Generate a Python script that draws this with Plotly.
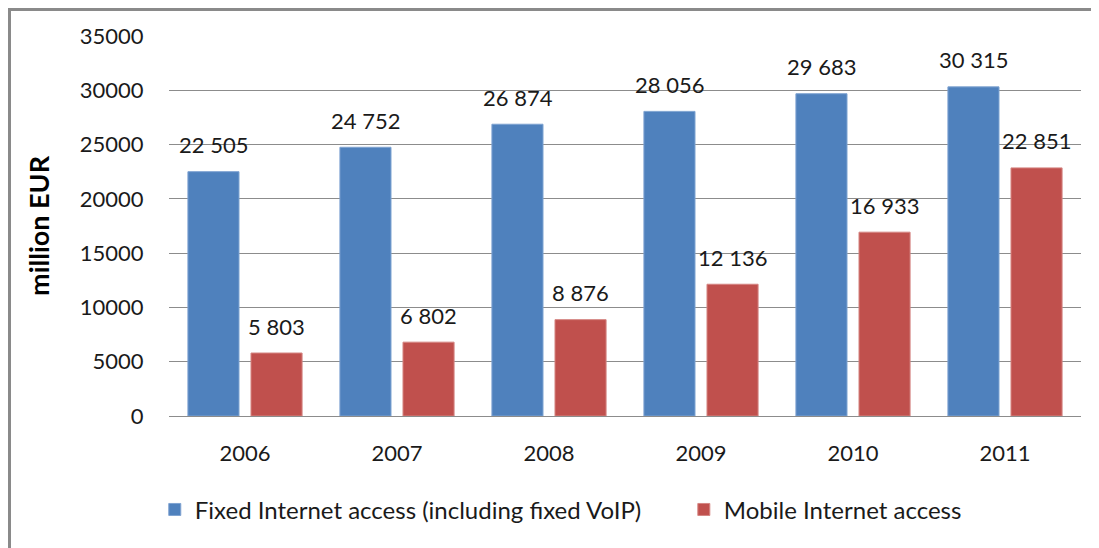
import plotly.graph_objects as go

# --- DATA ---
YEARS = ["2006", "2007", "2008", "2009", "2010", "2011"]
FIXED = [22505, 24752, 26874, 28056, 29683, 30315]
MOBILE = [5803, 6802, 8876, 12136, 16933, 22851]
SERIES_NAMES = ["Fixed Internet access (including fixed VoIP)", "Mobile Internet access"]
Y_TICKS = [0, 5000, 10000, 15000, 20000, 25000, 30000, 35000]

# --- STYLE ---
BLUE = "#4F81BD"
RED = "#C0504D"
GRID = "#8c8c8c"
FONT = "Lato"
TXT = "#1a1a1a"


def fmt(v):
    return f"{v:,}".replace(",", " ")


fig = go.Figure()
fig.add_trace(go.Bar(x=YEARS, y=FIXED, name=SERIES_NAMES[0], marker_color=BLUE,
                     marker_line=dict(color="#7fa3d1", width=1), legend="legend"))
fig.add_trace(go.Bar(x=YEARS, y=MOBILE, name=SERIES_NAMES[1], marker_color=RED,
                     marker_line=dict(color="#d58683", width=1), legend="legend2"))

# data labels above each bar (category index, grouped offset ~ +/- 31.5px)
for vals, shift in ((FIXED, -31.5), (MOBILE, 31.5)):
    for i, v in enumerate(vals):
        fig.add_annotation(x=i, y=v, text=fmt(v), showarrow=False, xshift=shift,
                           yshift=27, yanchor="middle",
                           font=dict(family=FONT, size=22, color=TXT))

# outer chart frame (left/top visible, right/bottom cut off)
fig.add_shape(type="rect", xref="paper", yref="paper", x0=-0.1749, y0=-0.40,
              x1=1.05, y1=1.0697, line=dict(color="#8a8a8a", width=3), layer="below")

legend_font = dict(family=FONT, size=24, color=TXT)

# page has an 8px body margin, so the figure is 8px smaller and offset
fig.update_layout(
    width=1091, height=540,
    margin=dict(l=161, r=18, t=28, b=132),
    paper_bgcolor="white", plot_bgcolor="white",
    barmode="group", bargap=0.17, bargroupgap=0.19,
    font=dict(family=FONT, size=22, color=TXT),
    showlegend=True,
    legend=dict(orientation="h", x=-0.0156, xanchor="left", y=-0.247, yanchor="middle",
                font=legend_font, itemwidth=30),
    legend2=dict(orientation="h", x=0.5645, xanchor="left", y=-0.247, yanchor="middle",
                 font=legend_font, itemwidth=30),
    xaxis=dict(type="category", showgrid=False, showline=False, ticks="outside", ticklen=18,
               tickcolor="rgba(0,0,0,0)", tickfont=dict(size=22)),
    yaxis=dict(range=[0, 35000], tickvals=Y_TICKS, tickformat="d",
               showgrid=True, gridcolor=GRID, gridwidth=1,
               zeroline=True, zerolinecolor=GRID, zerolinewidth=1,
               ticks="outside", ticklen=20, tickcolor="rgba(0,0,0,0)",
               tickfont=dict(size=22),
               title=dict(text="<b>million EUR</b>", standoff=22,
                          font=dict(family=FONT, size=27, color="black"))),
)

fig.write_html("out.html")
